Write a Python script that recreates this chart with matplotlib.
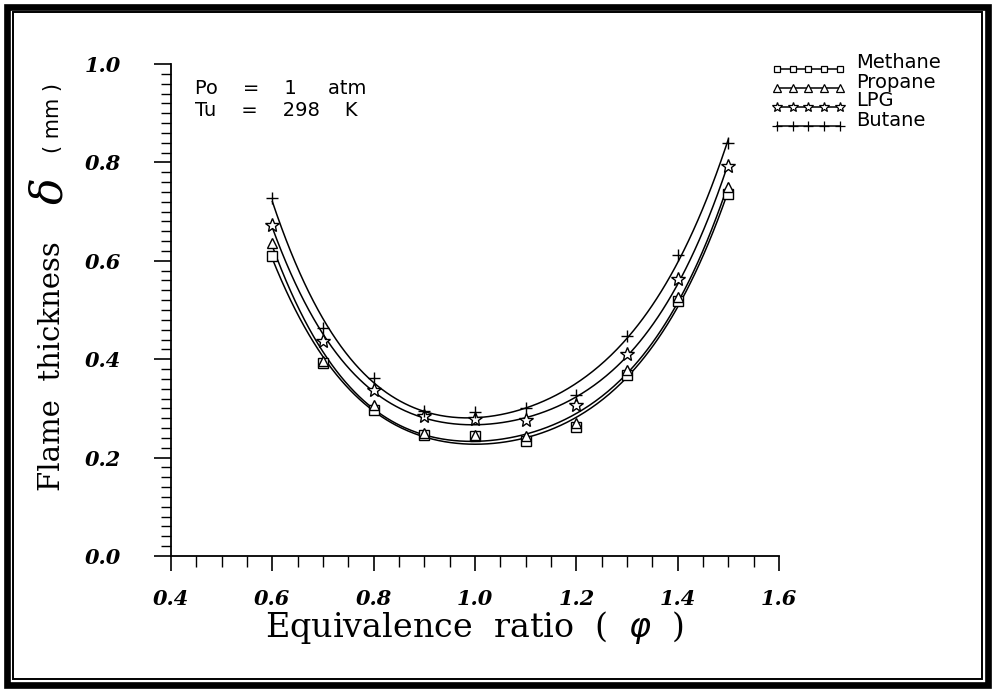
import numpy as np
import matplotlib
matplotlib.use("Agg")
import matplotlib.pyplot as plt
from matplotlib.patches import Rectangle
from matplotlib.legend_handler import HandlerLine2D
from matplotlib.ticker import MultipleLocator, FixedLocator, FixedFormatter

# equivalence ratio and measured flame thickness (mm)
phi = [0.6, 0.7, 0.8, 0.9, 1.0, 1.1, 1.2, 1.3, 1.4, 1.5]
methane = [0.610, 0.392, 0.297, 0.245, 0.243, 0.234, 0.263, 0.368, 0.519, 0.736]
propane = [0.637, 0.397, 0.307, 0.249, 0.245, 0.243, 0.270, 0.378, 0.526, 0.751]
lpg = [0.673, 0.438, 0.337, 0.285, 0.278, 0.276, 0.307, 0.411, 0.563, 0.793]
butane = [0.728, 0.463, 0.362, 0.295, 0.293, 0.301, 0.327, 0.447, 0.612, 0.840]

fuel_names = ["Methane", "Propane", "LPG", "Butane"]
fuel_markers = ["s", "^", "*", "+"]

x_ticks = [0.4, 0.6, 0.8, 1.0, 1.2, 1.4, 1.6]
x_ticklabels = ["0.4", "0.6", "0.8", "1.0", "1.2", "1.4", "1.6"]
y_ticks = [0.0, 0.2, 0.4, 0.6, 0.8, 1.0]
y_ticklabels = ["0.0", "0.2", "0.4", "0.6", "0.8", "1.0"]


class UnderlineHandler(HandlerLine2D):
    # legend line sits under the markers instead of through them
    def create_artists(self, legend, orig_handle, xdescent, ydescent,
                       width, height, fontsize, trans):
        arts = super().create_artists(legend, orig_handle, xdescent, ydescent,
                                      width, height, fontsize, trans)
        line = arts[0]
        line.set_ydata(np.asarray(line.get_ydata()) - 0.4 * fontsize)
        return arts


fig = plt.figure(figsize=(9.94, 6.91), dpi=100)
ax = fig.add_axes([171 / 994, (691 - 556) / 691, 608 / 994, 492 / 691])

phi_fit = np.linspace(0.6, 1.5, 300)
for vals, name, mk in zip([methane, propane, lpg, butane], fuel_names, fuel_markers):
    coef = np.polyfit(phi, vals, 4)
    ax.plot(phi_fit, np.polyval(coef, phi_fit), color="black", lw=1.1)
    ms = {"s": 6.5, "^": 7, "*": 10, "+": 9}[mk]
    ax.plot(phi, vals, linestyle="none", marker=mk, ms=ms, mfc="white",
            mec="black", mew=1.0, zorder=3)
    # proxy for the legend entry
    ax.plot([], [], color="black", lw=1.1, marker=mk, ms=ms * 0.75, mfc="white",
            mec="black", mew=0.9, label=name)

ax.set_xlim(0.4, 1.6)
ax.set_ylim(0.0, 1.0)
for s in ["top", "right"]:
    ax.spines[s].set_visible(False)
for s in ["left", "bottom"]:
    ax.spines[s].set_linewidth(1.3)

tick_font = dict(family="DejaVu Serif", weight="bold", style="italic", size=15)
ax.xaxis.set_major_locator(FixedLocator(x_ticks))
ax.xaxis.set_major_formatter(FixedFormatter(x_ticklabels))
ax.yaxis.set_major_locator(FixedLocator(y_ticks))
ax.yaxis.set_major_formatter(FixedFormatter(y_ticklabels))
ax.xaxis.set_minor_locator(MultipleLocator(0.05))
ax.yaxis.set_minor_locator(MultipleLocator(0.02))
ax.tick_params(axis="x", which="major", direction="out", length=11, width=1.2, pad=13)
ax.tick_params(axis="x", which="minor", direction="out", length=8, width=1.0)
ax.tick_params(axis="y", which="major", direction="out", length=12, width=1.2, pad=24)
ax.tick_params(axis="y", which="minor", direction="out", length=7, width=1.0)
for lab in ax.get_xticklabels() + ax.get_yticklabels():
    lab.set_fontproperties(matplotlib.font_manager.FontProperties(**tick_font))

ax.set_xlabel(r"Equivalence  ratio  (  $\varphi$  )", family="DejaVu Serif",
              fontsize=24, labelpad=0)

# y label pieces: text, delta symbol, units
fig.text(52 / 994, 1 - 366 / 691, "Flame  thickness", rotation=90, ha="center",
         va="center", family="DejaVu Serif", fontsize=21)
fig.text(50 / 994, 1 - 191 / 691, "δ", rotation=90, ha="center", va="center",
         family="DejaVu Serif", style="italic", fontsize=32)
fig.text(53 / 994, 1 - 118 / 691, "( mm )", rotation=90, ha="center", va="center",
         family="DejaVu Sans", fontsize=15)

ax.text(195 / 994, 1 - 88 / 691, "Po    =    1     atm", transform=fig.transFigure,
        ha="left", va="center", family="DejaVu Sans", fontsize=14)
ax.text(195 / 994, 1 - 110 / 691, "Tu    =    298    K", transform=fig.transFigure,
        ha="left", va="center", family="DejaVu Sans", fontsize=14)

leg = ax.legend(loc="upper left", bbox_to_anchor=(754 / 994, 1 - 36 / 691),
                bbox_transform=fig.transFigure, numpoints=5, handlelength=3.8,
                handletextpad=0.55, labelspacing=0.0, frameon=False,
                prop=dict(family="DejaVu Sans", size=14),
                handler_map={matplotlib.lines.Line2D: UnderlineHandler()})

# double frame round the whole figure
fig.patches.append(Rectangle((6.5 / 994, 6.5 / 691), 981 / 994, 678 / 691,
                             transform=fig.transFigure, fill=False,
                             edgecolor="black", lw=4.8))
fig.patches.append(Rectangle((12.5 / 994, 12 / 691), 969 / 994, 667 / 691,
                             transform=fig.transFigure, fill=False,
                             edgecolor="black", lw=1.4))

fig.savefig("out.png", dpi=100)
